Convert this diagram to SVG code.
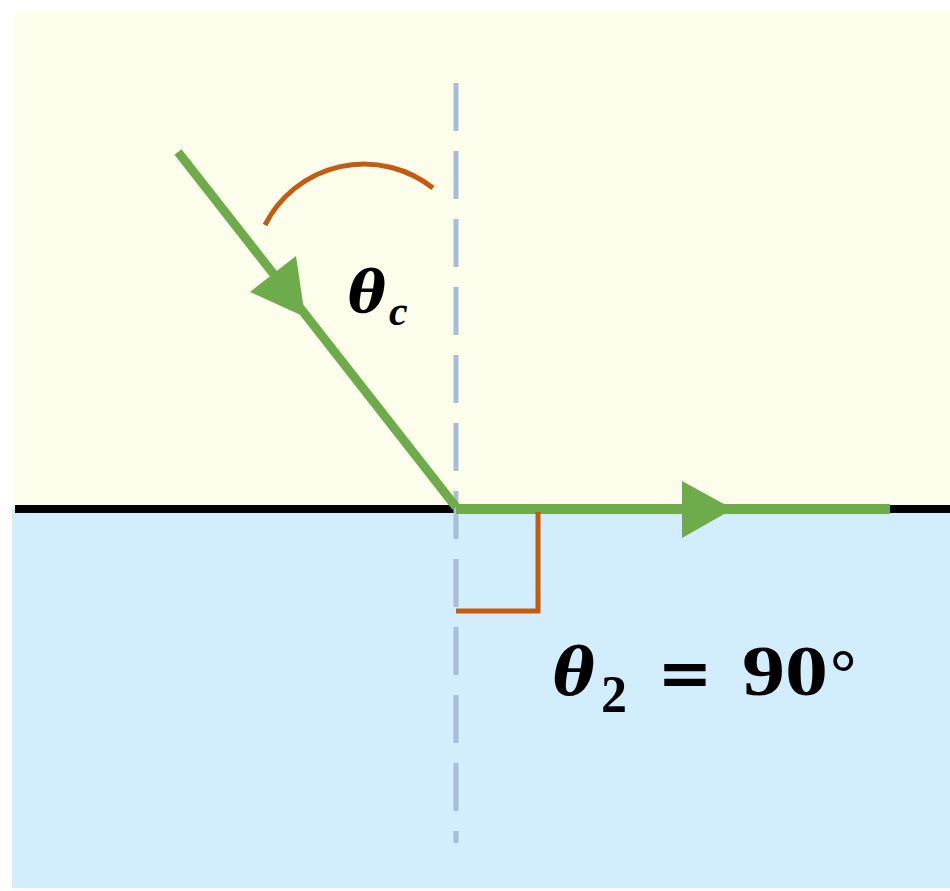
<svg xmlns="http://www.w3.org/2000/svg" width="950" height="891" viewBox="0 0 950 891">
<style>
.ray{stroke:#6eab4a;fill:none}
.ah{fill:#6eab4a}
.mark{stroke:#c55a11;stroke-width:5;fill:none}
.math{font-family:"Liberation Serif","Times New Roman",serif;fill:#000}
.greek{font-family:"DejaVu Serif","Liberation Serif",serif;fill:#000}
.bi{font-weight:bold;font-style:italic}
.b{font-weight:bold}
</style>
<rect width="950" height="891" fill="#ffffff"/>
<g id="medium1"><rect x="15" y="10" width="935" height="499" fill="#fdfeeb"/></g>
<g id="medium2"><rect x="12" y="509" width="938" height="379" fill="#d2eefc"/></g>
<g id="interface"><line x1="15" y1="509" x2="950" y2="509" stroke="#000" stroke-width="8"/></g>
<g id="normal"><line x1="456" y1="83" x2="456" y2="843" stroke="#a8bed8" stroke-width="5" stroke-dasharray="48 20"/></g>
<g id="connectors">
<line class="ray" x1="178" y1="152" x2="456" y2="507" stroke-width="9"/>
<polygon class="ah" points="305,317 296,256 250,292"/>
<line class="ray" x1="456" y1="509" x2="890" y2="509" stroke-width="10"/>
<polygon class="ah" points="733,509 682,481 682,538"/>
</g>
<g id="angle-c"><path class="mark" d="M265,225 A111,111 0 0 1 433,188"/></g>
<g id="right-angle"><path class="mark" d="M538,512 V611 H456"/></g>
<g id="label-c">
<text class="greek bi" x="348" y="312" font-size="58" textLength="38" lengthAdjust="spacingAndGlyphs">θ</text>
<text class="math bi" x="389" y="325" font-size="42">c</text>
</g>
<g id="label-2">
<text class="greek bi" x="553" y="695" font-size="66" textLength="42" lengthAdjust="spacingAndGlyphs">θ</text>
<text class="math b" x="601" y="712" font-size="52">2</text>
<text class="greek b" x="685" y="696" font-size="66" text-anchor="middle">=</text>
<text class="math b" x="742" y="695" font-size="72" textLength="86" lengthAdjust="spacingAndGlyphs">90</text>
<text class="math b" x="830" y="695" font-size="66">°</text>
</g>
</svg>
